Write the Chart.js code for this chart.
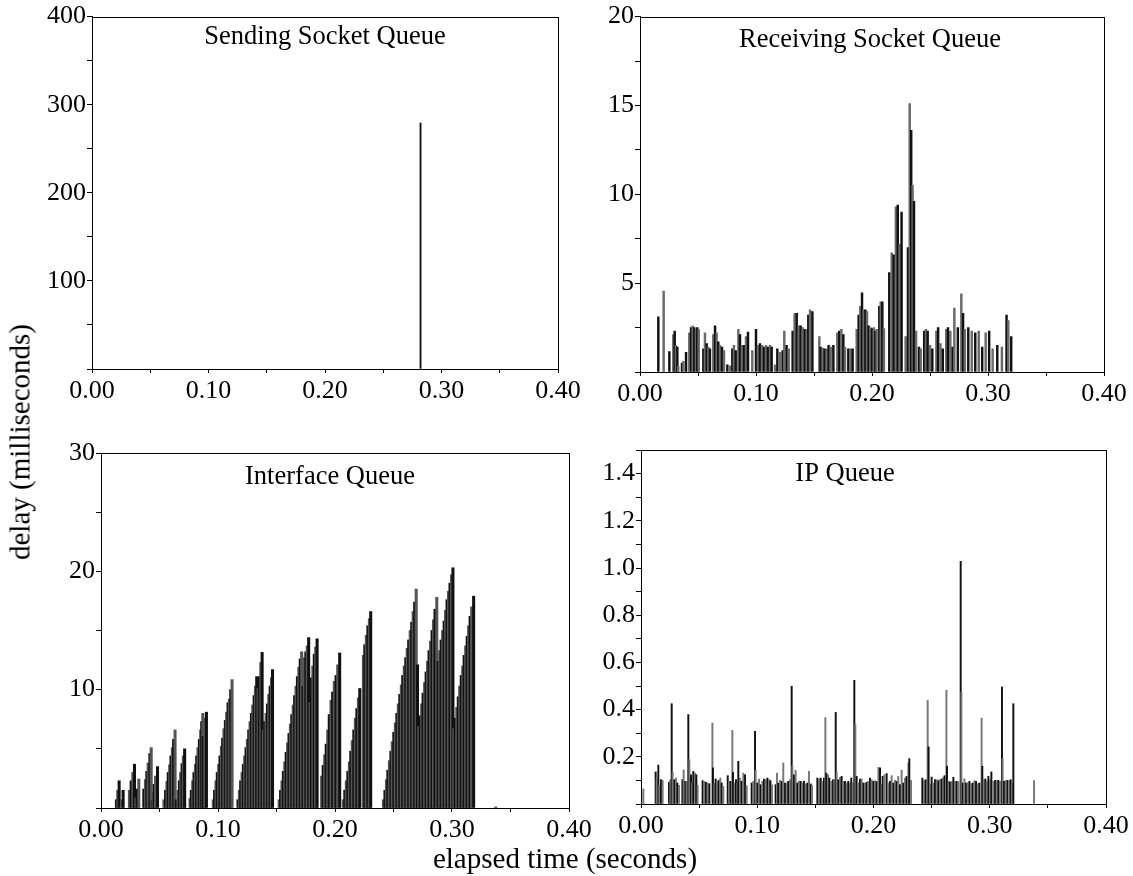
<!DOCTYPE html>
<html lang="en">
<head>
<meta charset="UTF-8">
<title>Queue delays</title>
<script src="https://cdn.jsdelivr.net/npm/chart.js@4.4.0/dist/chart.umd.min.js"></script>
<style>
  body { margin: 0; background: #fff; }
  #page { position: relative; width: 1133px; height: 876px; font-family: "Liberation Serif", "Times New Roman", serif; }
  #page canvas { position: absolute; left: 0; top: 0; }
  .axis-title { position: absolute; font-size: 29px; color: #000; white-space: nowrap; }
  #ylab { left: 20px; top: 442px; transform: translate(-50%, -50%) rotate(-90deg); }
  #xlab { left: 565px; top: 858px; transform: translate(-50%, -50%); }
</style>
</head>
<body>
<div id="page">
  <canvas id="c1" width="1133" height="876"></canvas>
  <canvas id="c2" width="1133" height="876"></canvas>
  <canvas id="c3" width="1133" height="876"></canvas>
  <canvas id="c4" width="1133" height="876"></canvas>
  <div class="axis-title" id="ylab">delay (milliseconds)</div>
  <div class="axis-title" id="xlab">elapsed time (seconds)</div>
</div>
<script>
// [elapsed time (s), delay (ms)] per packet

const sendQueue = [[0.282, 279]]

const recvQueue = [
  [0.0158,3.1],[0.0204,4.55],[0.0253,1.15],[0.0287,2.1],[0.0299,2.3],[0.0310,1.5],[0.0322,1.4],[0.0330,0.3],
  [0.0362,0.5],[0.0374,0.6],[0.0397,1.1],[0.0425,2.2],[0.0440,2.5],[0.0454,2.6],[0.0468,2.5],[0.0483,2.4],
  [0.0494,2.5],[0.0506,2.4],[0.0546,1.3],[0.0560,2.2],[0.0575,1.6],[0.0589,1.4],[0.0603,1.3],[0.0632,2.1],
  [0.0647,2.6],[0.0661,2.2],[0.0675,1.7],[0.0690,1.5],[0.0707,1.4],[0.0724,1.2],[0.0753,0.4],[0.0776,0.35],
  [0.0796,1.3],[0.0810,1.5],[0.0825,1.2],[0.0848,2.4],[0.0862,2.1],[0.0879,1.5],[0.0897,1.5],[0.0914,2.0],
  [0.0931,2.25],[0.0968,1.2],[0.1000,2.4],[0.1017,1.5],[0.1034,1.6],[0.1052,1.5],[0.1069,1.4],[0.1086,1.5],
  [0.1103,1.4],[0.1121,1.5],[0.1135,1.4],[0.1164,0.4],[0.1184,1.3],[0.1207,1.1],[0.1230,1.2],[0.1244,2.3],
  [0.1264,1.5],[0.1282,1.3],[0.1316,2.3],[0.1333,3.3],[0.1351,3.3],[0.1368,2.6],[0.1385,2.6],[0.1402,2.5],
  [0.1420,2.4],[0.1437,2.4],[0.1451,3.2],[0.1466,3.5],[0.1486,3.4],[0.1546,2.0],[0.1557,1.4],[0.1575,1.35],
  [0.1592,1.3],[0.1609,1.3],[0.1626,1.5],[0.1644,1.4],[0.1667,1.5],[0.1701,2.2],[0.1718,2.3],[0.1736,2.4],
  [0.1753,2.1],[0.1767,1.4],[0.1796,1.3],[0.1816,1.3],[0.1833,1.3],[0.1868,2.4],[0.1885,3.2],[0.1899,3.7],
  [0.1914,4.45],[0.1928,3.5],[0.1943,3.5],[0.1957,3.4],[0.1971,2.6],[0.1986,2.5],[0.2000,2.45],[0.2015,2.5],
  [0.2029,2.3],[0.2040,2.4],[0.2063,3.7],[0.2075,3.95],[0.2089,3.95],[0.2103,2.45],[0.2149,5.6],[0.2170,6.7],
  [0.2187,6.6],[0.2206,9.3],[0.2222,9.4],[0.2238,7.2],[0.2255,9.0],[0.2290,2.0],[0.2310,7.0],[0.2325,15.1],
  [0.2338,13.6],[0.2350,10.5],[0.2362,9.6],[0.2380,2.3],[0.2405,1.4],[0.2420,1.3],[0.2450,2.3],[0.2465,2.4],
  [0.2480,2.3],[0.2500,1.5],[0.2520,1.3],[0.2555,2.3],[0.2570,2.5],[0.2590,1.6],[0.2610,1.3],[0.2640,2.4],
  [0.2655,2.5],[0.2675,2.3],[0.2695,1.4],[0.2710,3.6],[0.2740,2.5],[0.2770,4.4],[0.2785,3.3],[0.2800,2.4],
  [0.2830,2.5],[0.2860,2.3],[0.2890,2.2],[0.2920,2.3],[0.2950,1.4],[0.2980,2.2],[0.3010,2.3],[0.3040,1.3],
  [0.3080,1.5],[0.3120,1.4],[0.3160,3.2],[0.3175,2.9],[0.3200,2.0]
]

const ifQueue = [
  [0.0132,0.7],[0.0143,1.5],[0.0155,2.3],[0.0178,0.7],[0.0189,1.5],
  [0.0243,1.5],[0.0258,2.3],[0.0272,3.0],[0.0286,3.7],[0.0298,0.85],[0.0309,1.6],[0.0323,2.45],
  [0.0366,1.6],[0.0380,2.4],[0.0392,3.1],[0.0403,3.8],[0.0418,4.6],[0.0429,5.1],[0.0438,0.65],[0.0444,1.3],
  [0.0455,2.0],[0.0466,2.7],[0.0483,3.5],
  [0.0538,0.7],[0.0552,1.5],[0.0564,2.25],[0.0575,3.0],[0.0587,3.65],[0.0598,4.4],[0.0610,5.1],[0.0621,5.8],
  [0.0633,6.6],[0.0644,0.7],[0.0658,1.5],[0.0670,2.3],[0.0681,3.0],[0.0693,3.75],[0.0704,4.4],[0.0715,5.0],
  [0.0761,0.8],[0.0772,1.5],[0.0784,2.3],[0.0795,3.0],[0.0807,3.7],[0.0818,4.4],[0.0829,5.1],[0.0841,5.8],
  [0.0852,6.6],[0.0861,7.3],[0.0870,8.0],[0.0875,6.05],[0.0887,7.6],[0.0901,8.1],
  [0.0960,0.7],[0.0971,1.5],[0.0983,2.3],[0.0994,3.0],[0.1006,3.7],[0.1017,4.4],[0.1029,5.2],[0.1040,5.9],
  [0.1051,6.7],[0.1063,7.4],[0.1074,8.1],[0.1086,8.9],[0.1097,9.2],[0.1109,10.0],[0.1120,10.85],
  [0.1171,0.7],[0.1183,1.5],[0.1194,2.3],[0.1206,3.0],[0.1217,3.7],[0.1228,4.4],[0.1240,5.1],[0.1251,5.8],
  [0.1263,6.6],[0.1274,7.3],[0.1286,8.0],[0.1297,8.7],[0.1309,9.5],[0.1320,10.3],[0.1331,11.1],[0.1343,10.1],
  [0.1354,11.1],[0.1366,12.3],[0.1377,13.15],[0.1388,6.6],[0.1400,7.3],[0.1411,8.0],[0.1423,8.8],[0.1434,9.6],
  [0.1446,10.3],[0.1457,11.0],[0.1466,11.7],
  [0.1523,0.7],[0.1535,1.5],[0.1547,2.3],[0.1559,3.1],[0.1571,3.9],[0.1583,4.7],[0.1595,5.5],[0.1607,6.3],
  [0.1619,7.1],[0.1631,7.9],[0.1643,8.7],[0.1655,9.5],[0.1667,10.3],[0.1679,11.1],[0.1691,11.9],[0.1703,12.6],
  [0.1715,13.2],[0.1727,10.3],[0.1739,12.7],[0.1751,13.2],[0.1763,13.7],[0.1775,14.4],[0.1787,8.9],[0.1799,11.0],
  [0.1811,12.0],[0.1823,13.0],[0.1835,13.6],[0.1847,14.3],
  [0.1886,2.7],[0.1899,3.6],[0.1912,4.5],[0.1925,5.4],[0.1938,6.6],[0.1951,7.9],[0.1966,9.1],[0.1980,9.8],
  [0.1994,10.7],[0.2009,11.2],[0.2023,12.1],[0.2040,13.1],
  [0.2071,0.7],[0.2084,1.5],[0.2097,2.3],[0.2110,3.1],[0.2123,3.9],[0.2135,4.8],[0.2148,5.7],[0.2161,6.6],
  [0.2174,7.6],[0.2187,8.4],[0.2200,9.3],[0.2212,10.1],[0.2243,12.9],[0.2255,13.8],[0.2268,14.6],[0.2281,15.4],
  [0.2294,16.0],[0.2305,16.6],
  [0.2414,0.7],[0.2427,1.5],[0.2440,2.4],[0.2452,3.2],[0.2465,4.0],[0.2478,4.8],[0.2490,5.6],[0.2503,6.4],
  [0.2516,7.2],[0.2529,8.0],[0.2541,8.8],[0.2554,9.6],[0.2567,10.4],[0.2579,11.2],[0.2592,12.0],[0.2605,12.7],
  [0.2617,13.5],[0.2630,14.2],[0.2643,15.0],[0.2656,15.7],[0.2668,16.6],[0.2681,17.4],[0.2694,18.5],
  [0.2705,12.1],[0.2716,6.9],[0.2728,7.8],[0.2741,8.8],[0.2753,9.7],[0.2766,10.6],[0.2779,11.5],[0.2791,12.4],
  [0.2804,13.3],[0.2817,14.1],[0.2830,15.0],[0.2842,15.9],[0.2855,16.8],[0.2870,17.8],[0.2882,12.4],[0.2895,13.3],
  [0.2907,14.2],[0.2920,15.0],[0.2933,15.8],[0.2945,16.7],[0.2958,17.6],[0.2970,18.3],[0.2983,19.0],[0.2996,19.7],
  [0.3008,20.3],
  [0.3016,6.7],[0.3028,7.6],[0.3041,8.5],[0.3054,9.4],[0.3066,10.3],[0.3079,11.2],[0.3092,12.0],[0.3104,12.9],
  [0.3117,13.7],[0.3130,14.5],[0.3142,15.4],[0.3155,16.2],[0.3168,17.0],[0.3185,17.9],
  [0.3374,0.1]
]

const ipQueue = [
  [0.0000,0.068],[0.0020,0.064],
  [0.0126,0.136],[0.0135,0.106],[0.0149,0.165],[0.0158,0.079],[0.0172,0.103],[0.0186,0.100],
  [0.0241,0.092],[0.0252,0.103],[0.0264,0.425],[0.0272,0.136],[0.0287,0.103],[0.0301,0.110],[0.0313,0.089],[0.0327,0.079],
  [0.0356,0.103],[0.0367,0.144],[0.0381,0.096],[0.0393,0.096],[0.0407,0.379],[0.0416,0.188],[0.0430,0.124],[0.0439,0.089],
  [0.0450,0.138],[0.0465,0.131],[0.0476,0.124],[0.0487,0.079],
  [0.0530,0.099],[0.0545,0.096],[0.0559,0.092],[0.0573,0.089],[0.0588,0.086],[0.0614,0.343],[0.0619,0.153],[0.0631,0.086],
  [0.0642,0.106],[0.0657,0.096],[0.0668,0.100],[0.0682,0.110],[0.0694,0.089],[0.0708,0.075],
  [0.0746,0.120],[0.0757,0.096],[0.0771,0.096],[0.0786,0.312],[0.0791,0.134],[0.0806,0.089],[0.0817,0.103],[0.0829,0.089],
  [0.0837,0.181],[0.0852,0.110],[0.0866,0.096],[0.0880,0.131],[0.0895,0.124],[0.0909,0.078],
  [0.0952,0.089],[0.0966,0.096],[0.0981,0.308],[0.0986,0.143],[0.1001,0.089],[0.1015,0.106],[0.1029,0.082],[0.1044,0.096],
  [0.1058,0.106],[0.1072,0.103],[0.1087,0.110],[0.1101,0.103],[0.1113,0.099],[0.1127,0.081],
  [0.1158,0.082],[0.1170,0.131],[0.1181,0.089],[0.1196,0.100],[0.1210,0.096],[0.1224,0.174],[0.1239,0.089],[0.1253,0.089],
  [0.1267,0.096],[0.1282,0.103],[0.1296,0.499],[0.1302,0.162],[0.1316,0.124],[0.1330,0.143],[0.1345,0.089],[0.1359,0.096],
  [0.1374,0.096],[0.1388,0.089],[0.1402,0.096],[0.1417,0.085],[0.1431,0.089],[0.1445,0.138],[0.1460,0.085],[0.1471,0.079],
  [0.1517,0.110],[0.1531,0.106],[0.1546,0.110],[0.1560,0.096],[0.1574,0.110],[0.1586,0.366],[0.1594,0.131],[0.1609,0.124],
  [0.1620,0.110],[0.1637,0.096],[0.1652,0.103],[0.1663,0.103],[0.1675,0.388],[0.1683,0.136],[0.1697,0.103],[0.1712,0.113],
  [0.1726,0.117],[0.1740,0.096],[0.1755,0.096],[0.1769,0.089],[0.1783,0.096],[0.1798,0.089],[0.1809,0.110],[0.1821,0.089],
  [0.1835,0.524],[0.1844,0.336],[0.1855,0.117],[0.1870,0.089],[0.1884,0.106],[0.1898,0.106],[0.1913,0.089],[0.1927,0.089],
  [0.1941,0.092],[0.1955,0.096],[0.1970,0.110],[0.1984,0.103],[0.1999,0.096],[0.2013,0.099],[0.2027,0.095],[0.2042,0.155],
  [0.2056,0.153],[0.2070,0.082],[0.2079,0.117],[0.2093,0.124],[0.2113,0.129],[0.2128,0.089],[0.2142,0.096],[0.2156,0.120],
  [0.2171,0.089],[0.2185,0.100],[0.2199,0.096],[0.2213,0.117],[0.2228,0.082],[0.2242,0.143],[0.2257,0.089],[0.2271,0.110],
  [0.2285,0.117],[0.2300,0.174],[0.2308,0.192],[0.2323,0.100],
  [0.2420,0.110],[0.2434,0.100],[0.2449,0.103],[0.2466,0.439],[0.2474,0.242],[0.2486,0.082],[0.2500,0.114],[0.2515,0.089],
  [0.2529,0.103],[0.2544,0.103],[0.2558,0.099],[0.2572,0.103],[0.2587,0.106],[0.2601,0.114],[0.2612,0.120],[0.2627,0.482],
  [0.2632,0.160],[0.2647,0.096],[0.2658,0.093],[0.2672,0.096],[0.2687,0.113],[0.2701,0.096],[0.2716,0.096],[0.2730,0.095],
  [0.2750,1.028],[0.2756,0.472],[0.2767,0.089],[0.2782,0.107],[0.2796,0.089],[0.2810,0.090],[0.2825,0.096],[0.2839,0.086],
  [0.2854,0.089],[0.2868,0.099],[0.2882,0.096],[0.2897,0.086],[0.2911,0.089],[0.2930,0.364],[0.2936,0.160],[0.2948,0.103],
  [0.2962,0.106],[0.2974,0.096],[0.2988,0.117],[0.3002,0.103],[0.3014,0.136],[0.3031,0.096],[0.3046,0.100],[0.3060,0.100],
  [0.3074,0.100],[0.3088,0.096],[0.3105,0.496],[0.3111,0.192],[0.3123,0.096],[0.3137,0.100],[0.3152,0.100],[0.3169,0.100],
  [0.3180,0.103],[0.3192,0.089],[0.3203,0.425],
  [0.3381,0.099]
]

const timeTicks = { min: 0, max: 0.4, step: 0.05 }

const FONT = '"Liberation Serif", "Times New Roman", serif'

// frame around the plot area and the title written inside it
const framePlugin = {
  id: 'frame',
  afterDatasetsDraw(chart, args, opts) {
    const { ctx, chartArea: a } = chart
    ctx.save()
    ctx.strokeStyle = '#000'
    ctx.lineWidth = 1
    ctx.strokeRect(Math.round(a.left) + 0.5, Math.round(a.top) + 0.5,
                   Math.round(a.right - a.left), Math.round(a.bottom - a.top))
    ctx.fillStyle = '#000'
    ctx.font = '26.5px ' + FONT
    ctx.textAlign = 'center'
    ctx.textBaseline = 'middle'
    ctx.fillText(opts.text, opts.x, opts.y)
    ctx.restore()
  }
}

function makePanel(id, samples, p) {
  const ctx = document.getElementById(id).getContext('2d')
  return new Chart(ctx, {
    type: 'bar',
    data: {
      datasets: [{
        data: samples.map(s => ({ x: s[0], y: s[1] })),
        backgroundColor: c => c.dataIndex % 2 ? p.shade : '#111',
        borderWidth: 0,
        barThickness: p.barWidth,
        grouped: false
      }]
    },
    options: {
      responsive: false,
      animation: false,
      devicePixelRatio: 1,
      layout: { padding: p.pad },
      plugins: {
        legend: { display: false },
        tooltip: { enabled: false },
        frame: p.title
      },
      scales: {
        x: {
          type: 'linear',
          offset: false,
          min: timeTicks.min,
          max: timeTicks.max,
          afterFit: s => { s.height = 45 },
          grid: { offset: false, drawOnChartArea: false, tickLength: 4, color: '#000' },
          border: { color: '#000' },
          ticks: {
            stepSize: timeTicks.step,
            autoSkip: false,
            maxRotation: 0,
            padding: 3,
            color: '#000',
            font: { family: FONT, size: 26 },
            callback: v => Math.round(v * 100) % 10 === 0 ? v.toFixed(2) : ''
          }
        },
        y: {
          min: 0,
          max: p.yMax,
          afterFit: s => { s.width = 50 },
          grid: { drawOnChartArea: false, tickLength: 5, color: '#000' },
          border: { color: '#000' },
          ticks: {
            stepSize: p.yStep,
            autoSkip: false,
            padding: 1,
            color: '#000',
            font: { family: FONT, size: 26 },
            callback: p.yLabel
          }
        }
      }
    },
    plugins: [framePlugin]
  })
}

makePanel('c1', sendQueue, {
  pad: { left: 42, top: 15, right: 575, bottom: 462 },
  yMax: 400, yStep: 50, barWidth: 1.2, shade: '#777',
  yLabel: v => v > 0 && v % 100 === 0 ? v : '',
  title: { text: 'Sending Socket Queue', x: 325, y: 37 }
})

makePanel('c2', recvQueue, {
  pad: { left: 590, top: 15, right: 29, bottom: 459 },
  yMax: 20, yStep: 2.5, barWidth: 1.8, shade: '#6a6a6a',
  yLabel: v => v > 0 && v % 5 === 0 ? v : '',
  title: { text: 'Receiving Socket Queue', x: 870, y: 40 }
})

makePanel('c3', ifQueue, {
  pad: { left: 51, top: 453, right: 564, bottom: 23 },
  yMax: 30, yStep: 5, barWidth: 2.4, shade: '#555',
  yLabel: v => v > 0 && v % 10 === 0 ? v : '',
  title: { text: 'Interface Queue', x: 330, y: 477 }
})

makePanel('c4', ipQueue, {
  pad: { left: 591, top: 450, right: 27, bottom: 27 },
  yMax: 1.5, yStep: 0.1, barWidth: 1.3, shade: '#777',
  yLabel: v => {
    const k = Math.round(v * 10)
    return k > 0 && k % 2 === 0 && k < 15 ? (k / 10).toFixed(1) : ''
  },
  title: { text: 'IP Queue', x: 845, y: 474 }
})
</script>
</body>
</html>
